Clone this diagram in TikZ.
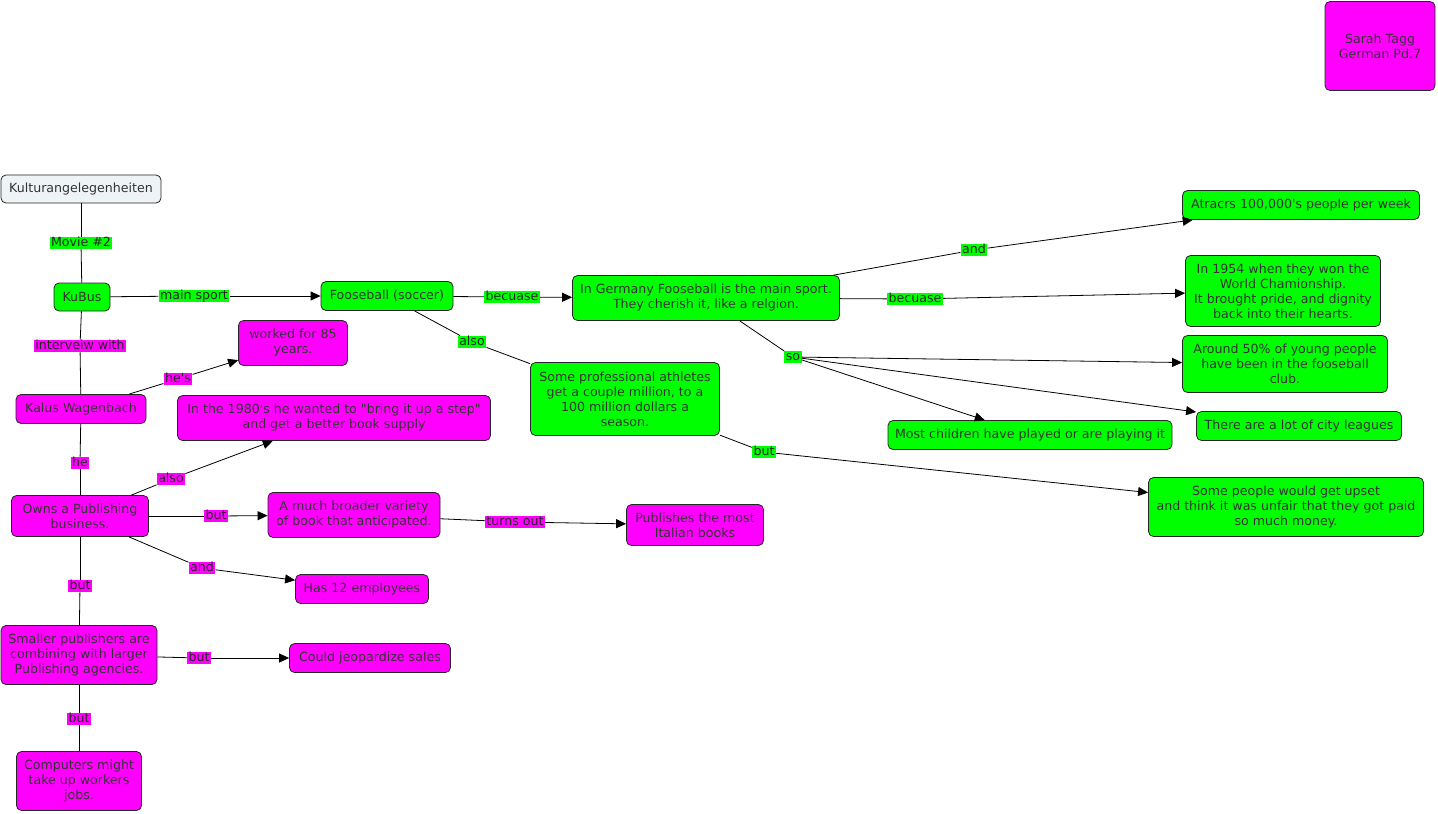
\documentclass[tikz,border=0pt]{standalone}
\usepackage{fontspec}
\setmainfont{DejaVu Sans}[Ligatures=TeXOff]
\usetikzlibrary{arrows.meta}
\definecolor{cg}{RGB}{0,255,0}
\definecolor{cm}{RGB}{255,0,255}
\definecolor{cgray}{RGB}{238,243,246}
\tikzset{
  cbox/.style={draw=black!85, rounded corners=5pt, line width=0.8pt, inner sep=1pt, align=center, font=\fontsize{12.6}{15}\selectfont, text=black!80},
  gbox/.style={cbox, fill=cg},
  mbox/.style={cbox, fill=cm},
  wbox/.style={cbox, fill=cgray},
  lbl/.style={inner xsep=1.5pt, inner ysep=0.5pt, text height=9pt, text depth=2.5pt, font=\fontsize{12.6}{13}\selectfont, text=black!85},
  glbl/.style={lbl, fill=cg},
  mlbl/.style={lbl, fill=cm},
  ln/.style={line width=0.8pt, black},
  arr/.style={ln, -{Triangle[length=10pt,width=9pt]}},
  sz/.style 2 args={minimum width=#1pt, minimum height=#2pt},
}
\begin{document}
\begin{tikzpicture}[x=1pt,y=-1pt]
\useasboundingbox[fill=white] (0,0) rectangle (1438,814);
% concepts
\node[wbox, sz={160}{28}] (kultur) at (81,189) {Kulturangelegenheiten};
\node[gbox, sz={56}{28}] (kubus) at (82,297) {KuBus};
\node[gbox, sz={132}{29}] (foos) at (387,296) {Fooseball (soccer)};
\node[gbox, sz={267}{45}] (germ) at (706,298) {In Germany Fooseball is the main sport.\\They cherish it, like a relgion.};
\node[gbox, sz={237}{29}] (atr) at (1301,205) {Atracrs 100,000's people per week};
\node[gbox, sz={195}{71}] (wc) at (1283,291) {In 1954 when they won the\\World Chamionship.\\It brought pride, and dignity\\back into their hearts.};
\node[gbox, sz={205}{57}] (fifty) at (1285,364) {Around 50\% of young people\\have been in the fooseball\\club.};
\node[gbox, sz={205}{29}] (city) at (1299,426) {There are a lot of city leagues};
\node[gbox, sz={284}{29}] (child) at (1030,435) {Most children have played or are playing it};
\node[gbox, sz={189}{73}] (pro) at (625,399) {Some professional athletes\\get a couple million, to a\\100 million dollars a\\season.};
\node[gbox, sz={275}{59}] (upset) at (1286,507) {Some people would get upset\\and think it was unfair that they got paid\\so much money.};
\node[mbox, sz={109}{45}] (worked) at (293,343) {worked for 85\\years.};
\node[mbox, sz={130}{29}] (kalus) at (81,409) {Kalus Wagenbach};
\node[mbox, sz={313}{45}] (step) at (334,418) {In the 1980's he wanted to "bring it up a step"\\and get a better book supply};
\node[mbox, sz={137}{41}] (owns) at (80,516) {Owns a Publishing\\business.};
\node[mbox, sz={172}{45}] (broad) at (354,515) {A much broader variety\\of book that anticipated.};
\node[mbox, sz={137}{41}] (ital) at (695,525) {Publishes the most\\Italian books};
\node[mbox, sz={133}{29}] (emp) at (362,589) {Has 12 employees};
\node[mbox, sz={156}{59}] (small) at (79,655) {Smaller publishers are\\combining with larger\\Publishing agencies.};
\node[mbox, sz={161}{29}] (jeop) at (370,658) {Could jeopardize sales};
\node[mbox, sz={125}{59}] (comp) at (79,781) {Computers might\\take up workers\\jobs.};
\node[mbox, sz={110}{89}] (sarah) at (1380,46) {Sarah Tagg\\German Pd.7};
% linking phrases
\node[glbl] (l1) at (81,243) {Movie \#2};
\node[glbl] (l2) at (194,296) {main sport};
\node[glbl] (l3) at (512,297) {becuase};
\node[glbl] (l4) at (472,342) {also};
\node[glbl] (l5) at (974,250) {and};
\node[glbl] (l6) at (915,299) {becuase};
\node[glbl] (l7) at (793,357) {so};
\node[glbl] (l8) at (764,452) {but};
\node[mlbl] (m1) at (80,346) {interveiw with};
\node[mlbl] (m2) at (178,379) {he's};
\node[mlbl] (m3) at (80,463) {he};
\node[mlbl] (m4) at (171,479) {also};
\node[mlbl] (m5) at (216,516) {but};
\node[mlbl] (m6) at (515,522) {turns out};
\node[mlbl] (m7) at (202,568) {and};
\node[mlbl] (m8) at (80,586) {but};
\node[mlbl] (m9) at (199,658) {but};
\node[mlbl] (m10) at (79,719) {but};
% connectors
\draw[ln] (kultur) -- (l1); \draw[ln] (l1) -- (kubus);
\draw[ln] (kubus) -- (l2); \draw[arr] (l2) -- (foos);
\draw[ln] (foos) -- (l3); \draw[arr] (l3) -- (germ);
\draw[ln] (foos) -- (l4); \draw[ln] (l4) -- (pro);
\draw[ln] (germ) -- (l5); \draw[arr] (l5) -- (atr);
\draw[ln] (germ) -- (l6); \draw[arr] (l6) -- (wc);
\draw[ln] (germ) -- (l7);
\draw[arr] (l7) -- (fifty);
\draw[arr] (l7) -- (city);
\draw[arr] (l7) -- (child);
\draw[ln] (pro) -- (l8); \draw[arr] (l8) -- (upset);
\draw[ln] (kubus) -- (m1); \draw[ln] (m1) -- (kalus);
\draw[ln] (kalus) -- (m2); \draw[arr] (m2) -- (worked);
\draw[ln] (kalus) -- (m3); \draw[ln] (m3) -- (owns);
\draw[ln] (owns) -- (m4); \draw[arr] (m4) -- (step);
\draw[ln] (owns) -- (m5); \draw[arr] (m5) -- (broad);
\draw[ln] (broad) -- (m6); \draw[arr] (m6) -- (ital);
\draw[ln] (owns) -- (m7); \draw[arr] (m7) -- (emp);
\draw[ln] (owns) -- (m8); \draw[ln] (m8) -- (small);
\draw[ln] (small) -- (m9); \draw[arr] (m9) -- (jeop);
\draw[ln] (small) -- (m10); \draw[ln] (m10) -- (comp);
\end{tikzpicture}
\end{document}
